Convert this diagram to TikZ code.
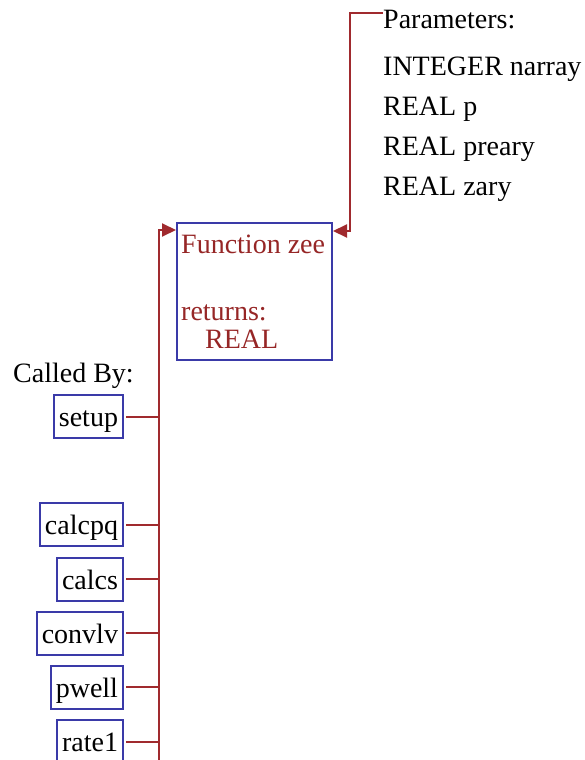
\documentclass[tikz,border=0pt]{standalone}
\usepackage{fontspec}
\setmainfont{Liberation Serif}
\usetikzlibrary{arrows.meta,positioning}
\definecolor{boxblue}{RGB}{58,58,168}
\definecolor{linered}{RGB}{160,42,46}
\definecolor{textred}{RGB}{150,38,38}
\tikzset{
  x=1pt,y=-1pt,
  every node/.style={font=\fontsize{28}{34}\selectfont},
  txt/.style={anchor=base west,inner sep=0pt,text=black},
  redtxt/.style={anchor=base west,inner sep=0pt,text=textred},
  caller/.style={draw=boxblue,line width=2pt,anchor=east,inner xsep=5pt,inner ysep=0pt,
    minimum height=43pt,text height=20pt,text depth=0pt},
  mainbox/.style={draw=boxblue,line width=2pt,anchor=north west,inner sep=0pt,
    minimum width=155pt,minimum height=137pt},
  conn/.style={draw=linered,line width=2pt},
  arr/.style={conn,-{Triangle[length=14pt,width=13pt]}},
}
\begin{document}
\begin{tikzpicture}
\useasboundingbox (0,0) rectangle (585,760);
% main function box
\node[mainbox] (zee) at (176,222) {};
\node[redtxt] (fn) at (181,253) {Function zee};
\node[redtxt] (ret) at (181,320) {returns:};
\node[redtxt] (rtype) at (205,348) {REAL};
% parameters
\node[txt] (params) at (383,29) {Parameters:};
\node[txt] (p1) at (383,75) {INTEGER narray};
\node[txt] (p2) at (383,115) {REAL p};
\node[txt] (p3) at (383,155) {REAL preary};
\node[txt] (p4) at (383,195) {REAL zary};
\coordinate (pin) at (383,13);
\draw[arr] (pin) -| (350,231) -- ([yshift=-9pt]zee.north east);
% called by
\node[txt] (calledby) at (13,382) {Called By:};
\node[caller] (setup) at (124,416.5) {setup};
\node[caller] (calcpq) at (124,524.5) {calcpq};
\node[caller] (calcs) at (124,579) {calcs};
\node[caller] (convlv) at (124,633) {convlv};
\node[caller] (pwell) at (124,687) {pwell};
\node[caller] (rate1) at (124,741.5) {rate1};
\coordinate (busbot) at (159,760);
\draw[arr] (busbot) |- ([yshift=-8pt]zee.north west);
\foreach \n in {setup,calcpq,calcs,convlv,pwell,rate1}
  \draw[conn,shorten <=2pt] (\n.east) -- (\n.east -| busbot);
\end{tikzpicture}
\end{document}
